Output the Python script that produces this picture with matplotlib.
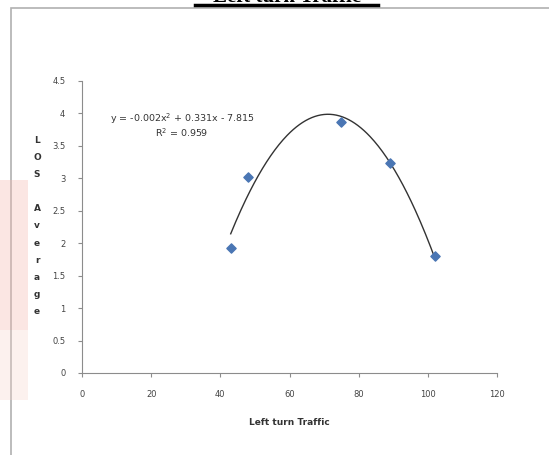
import numpy as np
import matplotlib.pyplot as plt
from matplotlib.patches import Rectangle
from matplotlib.lines import Line2D

# data
traffic = [43, 48, 75, 89, 102]
los_avg = [1.93, 3.02, 3.87, 3.24, 1.80]
xticks = [0, 20, 40, 60, 80, 100, 120]
yticks = [0, 0.5, 1, 1.5, 2, 2.5, 3, 3.5, 4, 4.5]
ytick_labels = ['0', '0.5', '1', '1.5', '2', '2.5', '3', '3.5', '4', '4.5']
eq_text = 'y = -0.002x$^2$ + 0.331x - 7.815\nR$^2$ = 0.959'

W, H = 549, 455
fig = plt.figure(figsize=(W / 100, H / 100), dpi=100)
ax = fig.add_axes([82 / W, 1 - 373 / H, (497 - 82) / W, (373 - 81) / H])

# outer chart frame (runs off the right and bottom edge)
fig.patches.append(Rectangle((11 / W, -0.1), 1.2, 1 - 8 / H + 0.1, transform=fig.transFigure,
                             fill=False, edgecolor='#b0b0b0', linewidth=1.2))

# faint red watermark at the left edge
fig.patches.append(Rectangle((0, 1 - 330 / H), 28 / W, 150 / H, transform=fig.transFigure,
                             facecolor='#f4b8b0', edgecolor='none', alpha=0.35))
fig.patches.append(Rectangle((0, 1 - 400 / H), 28 / W, 70 / H, transform=fig.transFigure,
                             facecolor='#f6d2c8', edgecolor='none', alpha=0.3))

# polynomial trendline, order 2
coef = np.polyfit(traffic, los_avg, 2)
xx = np.linspace(min(traffic), max(traffic), 200)
ax.plot(xx, np.polyval(coef, xx), color='#333333', linewidth=1.0)

ax.scatter(traffic, los_avg, marker='D', s=22, color='#4a76b4', zorder=3)

ax.set_xlim(0, 120)
ax.set_ylim(0, 4.5)
ax.set_xticks(xticks)
ax.set_yticks(yticks)
ax.set_yticklabels(ytick_labels)
for s in ['top', 'right']:
    ax.spines[s].set_visible(False)
for s in ['left', 'bottom']:
    ax.spines[s].set_color('#8c8c8c')
    ax.spines[s].set_linewidth(0.8)
ax.tick_params(direction='out', length=3, color='#8c8c8c', labelsize=6, labelcolor='#444444', pad=9)

ax.set_xlabel('Left turn Traffic', fontsize=6.5, fontweight='bold', color='#333333', labelpad=14)
ax.text(37 / W, 1 - 226 / H, '\n'.join('LOS Average'), transform=fig.transFigure,
        ha='center', va='center', fontsize=6.5, fontweight='bold', color='#333333', linespacing=2.15)

ax.text(182 / W, 1 - 125 / H, eq_text, transform=fig.transFigure, ha='center', va='center',
        fontsize=6.8, color='#333333', linespacing=1.0)

# title, cut off by the top edge, underlined
fig.text(287 / W, 1 - 2 / H, 'Left turn Traffic', ha='center', va='baseline',
         fontsize=15, fontweight='bold', family='Liberation Serif')
fig.lines.append(Line2D([195 / W, 378 / W], [1 - 5 / H, 1 - 5 / H], transform=fig.transFigure,
                        color='black', linewidth=2.5))

fig.savefig('out.png', dpi=100)
